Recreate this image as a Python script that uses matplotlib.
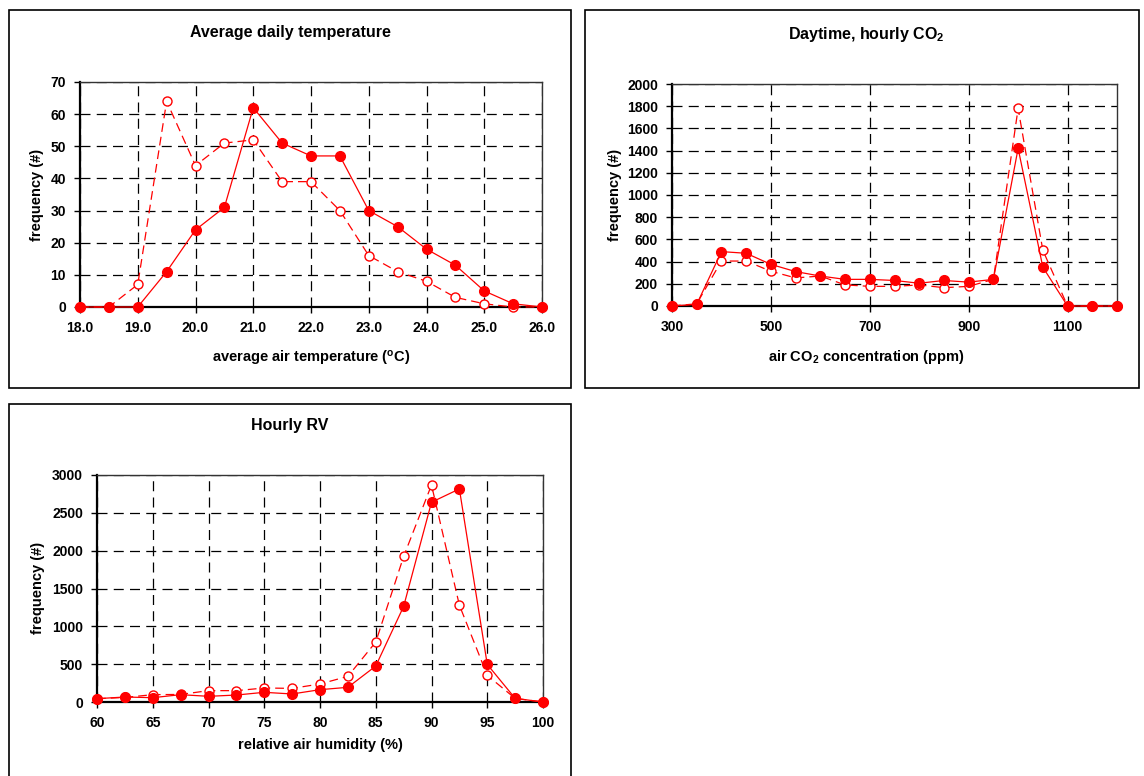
import matplotlib
matplotlib.use("Agg")
import matplotlib.pyplot as plt
from matplotlib.patches import Rectangle

plt.rcParams["font.family"] = ["Liberation Sans", "DejaVu Sans"]
plt.rcParams["font.weight"] = "bold"
plt.rcParams["mathtext.fontset"] = "custom"
plt.rcParams["mathtext.rm"] = "Liberation Sans:bold"
plt.rcParams["mathtext.it"] = "Liberation Sans:bold"
plt.rcParams["mathtext.bf"] = "Liberation Sans:bold"

W, H = 1144, 776

# Average daily temperature
temp_x = [18.0, 18.5, 19.0, 19.5, 20.0, 20.5, 21.0, 21.5, 22.0, 22.5, 23.0, 23.5, 24.0, 24.5, 25.0, 25.5, 26.0]
temp_solid = [0, 0, 0, 11, 24, 31, 62, 51, 47, 47, 30, 25, 18, 13, 5, 1, 0]
temp_dashed = [0, 0, 7, 64, 44, 51, 52, 39, 39, 30, 16, 11, 8, 3, 1, 0, 0]
temp_ticks = [18.0, 19.0, 20.0, 21.0, 22.0, 23.0, 24.0, 25.0, 26.0]

# Daytime hourly CO2
co2_x = [300, 350, 400, 450, 500, 550, 600, 650, 700, 750, 800, 850, 900, 950, 1000, 1050, 1100, 1150, 1200]
co2_solid = [0, 15, 490, 475, 375, 310, 270, 240, 240, 230, 205, 230, 215, 240, 1420, 350, 0, 0, 0]
co2_dashed = [0, 20, 405, 405, 313, 253, 270, 190, 177, 177, 190, 165, 177, 240, 1780, 502, 0, 0, 0]
co2_ticks = [300, 500, 700, 900, 1100]

# Hourly RV
rv_x = [60, 62.5, 65, 67.5, 70, 72.5, 75, 77.5, 80, 82.5, 85, 87.5, 90, 92.5, 95, 97.5, 100]
rv_solid = [44, 66, 57, 97, 75, 92, 128, 106, 163, 194, 475, 1263, 2640, 2816, 497, 48, 0]
rv_dashed = [44, 60, 97, 100, 150, 150, 185, 180, 238, 339, 792, 1923, 2868, 1280, 352, 48, 0]
rv_ticks = [60, 65, 70, 75, 80, 85, 90, 95, 100]

fig = plt.figure(figsize=(W / 100, H / 100), dpi=100)


def px_rect(x0, y0, x1, y1):
    return [x0 / W, 1 - y1 / H, (x1 - x0) / W, (y1 - y0) / H]


def frame(x0, y0, x1, y1):
    fig.patches.append(Rectangle((x0 / W, 1 - y1 / H), (x1 - x0) / W, (y1 - y0) / H,
                                 transform=fig.transFigure, fill=False,
                                 edgecolor="black", linewidth=1.2))


def panel(box, x, solid, dashed, xlim, ylim, xticks, yticks, fmt):
    ax = fig.add_axes(px_rect(*box))
    ax.plot(x, dashed, color="red", linestyle=(0, (7, 4)), linewidth=0.9,
            marker="o", markersize=6.5, markerfacecolor="white",
            markeredgecolor="red", markeredgewidth=1.0, clip_on=False, zorder=3)
    ax.plot(x, solid, color="red", linestyle="-", linewidth=0.9,
            marker="o", markersize=7, markerfacecolor="red",
            markeredgecolor="red", clip_on=False, zorder=4)
    ax.set_xlim(*xlim)
    ax.set_ylim(*ylim)
    ax.set_xticks(xticks)
    ax.set_xticklabels([fmt(v) for v in xticks])
    ax.set_yticks(yticks)
    ax.grid(True, color="black", linestyle=(0, (8, 5)), linewidth=0.9)
    ax.set_axisbelow(True)
    ax.tick_params(labelsize=10, length=4, width=1, pad=6)
    for lab in ax.get_xticklabels() + ax.get_yticklabels():
        lab.set_fontweight("bold")
    ax.spines["left"].set_linewidth(1.6)
    ax.spines["bottom"].set_linewidth(1.6)
    ax.spines["top"].set_linewidth(1.0)
    ax.spines["right"].set_linewidth(1.0)
    ax.spines["top"].set_color("#333333")
    ax.spines["right"].set_color("#333333")
    return ax


def text(x, y, s, size=10.5, **kw):
    fig.text(x / W, 1 - y / H, s, ha="center", va="center", fontsize=size,
             fontweight="bold", **kw)


# panel frames
frame(9, 10, 571, 388)
frame(585, 10, 1139, 388)
frame(9, 404, 571, 790)

panel((80, 82, 542, 307), temp_x, temp_solid, temp_dashed, (18, 26), (0, 70),
      temp_ticks, list(range(0, 71, 10)), lambda v: f"{v:.1f}")
text(290, 32, "Average daily temperature", size=11.5)
text(311, 358, r"average air temperature ($^{\mathrm{o}}$C)")
text(37, 195, "frequency (#)", rotation=90)

panel((672, 84, 1117, 306), co2_x, co2_solid, co2_dashed, (300, 1200), (0, 2000),
      co2_ticks, list(range(0, 2001, 200)), lambda v: f"{v:d}")
text(866, 35, r"Daytime, hourly CO$_2$", size=11.5)
text(866, 357, r"air CO$_2$ concentration (ppm)")
text(615, 195, "frequency (#)", rotation=90)

panel((97, 475, 543, 702), rv_x, rv_solid, rv_dashed, (60, 100), (0, 3000),
      rv_ticks, list(range(0, 3001, 500)), lambda v: f"{v:d}")
text(290, 425, "Hourly RV", size=11.5)
text(320, 745, "relative air humidity (%)")
text(38, 588, "frequency (#)", rotation=90)

fig.savefig("out.png", dpi=100)
